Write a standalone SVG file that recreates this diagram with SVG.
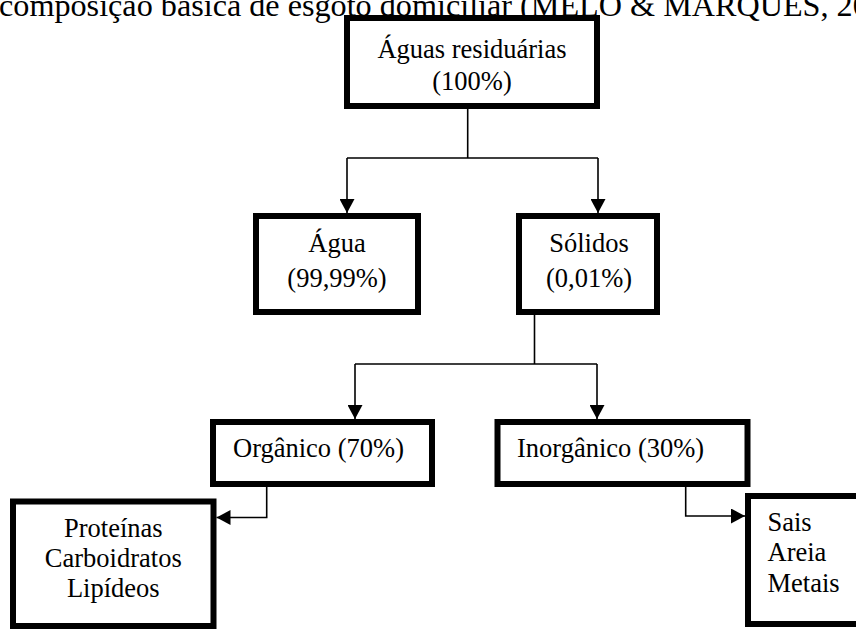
<svg xmlns="http://www.w3.org/2000/svg" width="856" height="630" viewBox="0 0 856 630">
<defs>
<style>
.box{fill:#fff;stroke:#000;stroke-width:6}
.t{font-family:"Liberation Serif","Times New Roman",serif;font-size:26.5px;fill:#000}
.c{text-anchor:middle}
.ln{fill:none;stroke:#000;stroke-width:1.6}
.cap{font-family:"Liberation Serif","Times New Roman",serif;font-size:32.2px;fill:#000}
</style>
<marker id="ah" markerUnits="userSpaceOnUse" markerWidth="14" markerHeight="15" refX="14" refY="7.5" orient="auto">
<path d="M0,0 L14,7.5 L0,15 Z" fill="#000"/>
</marker>
</defs>
<rect width="856" height="630" fill="#fff"/>
<text class="cap" x="-1" y="16">composição básica de esgoto domiciliar (MELO &amp; MARQUES, 20</text>
<g id="connectors">
<path class="ln" d="M467.7,109 V158 M347,158 H598"/>
<path class="ln" d="M347,158 V213" marker-end="url(#ah)"/>
<path class="ln" d="M598,158 V213" marker-end="url(#ah)"/>
<path class="ln" d="M534.5,315 V364 M355,364 H597"/>
<path class="ln" d="M355,364 V419" marker-end="url(#ah)"/>
<path class="ln" d="M597,364 V419" marker-end="url(#ah)"/>
<path class="ln" d="M266.7,487 V517.5 H216.5" marker-end="url(#ah)"/>
<path class="ln" d="M685.7,487 V516 H745" marker-end="url(#ah)"/>
</g>
<g id="aguas-residuarias">
<rect class="box" x="347" y="18" width="250" height="88"/>
<text class="t c" x="472" y="58">Águas residuárias</text>
<text class="t c" x="472" y="90">(100%)</text>
</g>
<g id="agua">
<rect class="box" x="256" y="216" width="162" height="96"/>
<text class="t c" x="337" y="252">Água</text>
<text class="t c" x="337" y="287">(99,99%)</text>
</g>
<g id="solidos">
<rect class="box" x="519" y="216" width="138" height="96"/>
<text class="t c" x="589" y="252">Sólidos</text>
<text class="t c" x="589" y="287">(0,01%)</text>
</g>
<g id="organico">
<rect class="box" x="213" y="422" width="219" height="62"/>
<text class="t" x="233" y="457">Orgânico (70%)</text>
</g>
<g id="inorganico">
<rect class="box" x="497.5" y="422" width="250" height="62"/>
<text class="t" x="517" y="457">Inorgânico (30%)</text>
</g>
<g id="proteinas">
<rect class="box" x="13" y="501.5" width="200.5" height="124.5"/>
<text class="t c" x="113.3" y="537">Proteínas</text>
<text class="t c" x="113.3" y="567">Carboidratos</text>
<text class="t c" x="113.3" y="597">Lipídeos</text>
</g>
<g id="sais">
<rect class="box" x="748" y="496" width="120" height="128"/>
<text class="t" x="767.5" y="530.5">Sais</text>
<text class="t" x="767.5" y="561">Areia</text>
<text class="t" x="767.5" y="591.5">Metais</text>
</g>
</svg>
